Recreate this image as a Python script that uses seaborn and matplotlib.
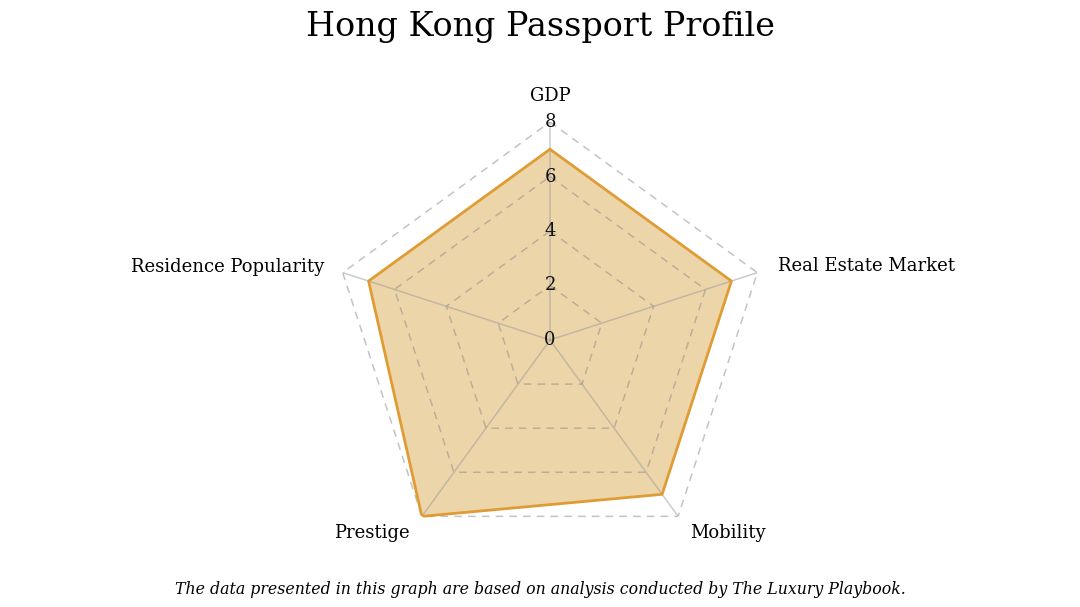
import numpy as np
import matplotlib
matplotlib.use("Agg")
import matplotlib.pyplot as plt
import seaborn as sns

# data
categories = ["GDP", "Real Estate Market", "Mobility", "Prestige", "Residence Popularity"]
values = [7, 7, 7, 8, 7]
ticks = [0, 2, 4, 6, 8]

sns.set_theme(style="white")
plt.rcParams["font.family"] = ["DejaVu Serif"]
plt.rcParams["text.color"] = "black"

fig = plt.figure(figsize=(10.8, 6.07), dpi=100)
cx, cy, rad = 550, 340, 218
ax = fig.add_axes([(cx - rad) / 1080, (607 - cy - rad) / 607, 2 * rad / 1080, 2 * rad / 607],
                  projection="polar")
ax.set_theta_offset(np.pi / 2)
ax.set_theta_direction(-1)
ax.set_ylim(0, 8)
ax.grid(False)
ax.spines["polar"].set_visible(False)
ax.set_xticks([])
ax.set_yticks([])
ax.patch.set_alpha(0)

n = len(categories)
angles = [i * 2 * np.pi / n for i in range(n)]
closed_a = angles + angles[:1]

# fill first, grid on top
vals = values + values[:1]
ax.fill(closed_a, vals, color="#edd5aa", zorder=1)

for t in ticks[1:]:
    ax.plot(closed_a, [t] * (n + 1), color="#888888", alpha=0.5, lw=1.1,
            ls=(0, (5, 4)), zorder=2)
for a in angles:
    ax.plot([a, a], [0, 8], color="#999999", alpha=0.5, lw=1.1, zorder=2)

sns.lineplot(x=closed_a, y=vals, sort=False, estimator=None, color="#e09c34",
             lw=2, ax=ax, zorder=3)
ax.set_xlabel("")
ax.set_ylabel("")

for t in ticks:
    ax.text(0, t, str(t), ha="center", va="center", fontsize=13, color="#111111", zorder=4)

# axis labels
ax.text(0, 8.95, categories[0], ha="center", va="center", fontsize=13)
ax.text(angles[1], 8.78, categories[1], ha="left", va="center", fontsize=13)
ax.text(angles[2], 8.75, categories[2], ha="left", va="center", fontsize=13)
ax.text(angles[3], 8.75, categories[3], ha="right", va="center", fontsize=13)
ax.text(angles[4], 8.72, categories[4], ha="right", va="center", fontsize=13)

fig.text(0.5, 1 - 27 / 607, "Hong Kong Passport Profile", ha="center", va="center", fontsize=24)
fig.text(0.5, 1 - 590 / 607,
         "The data presented in this graph are based on analysis conducted by The Luxury Playbook.",
         ha="center", va="center", fontsize=11.3, style="italic")

fig.savefig("out.png", dpi=100, facecolor="white")
